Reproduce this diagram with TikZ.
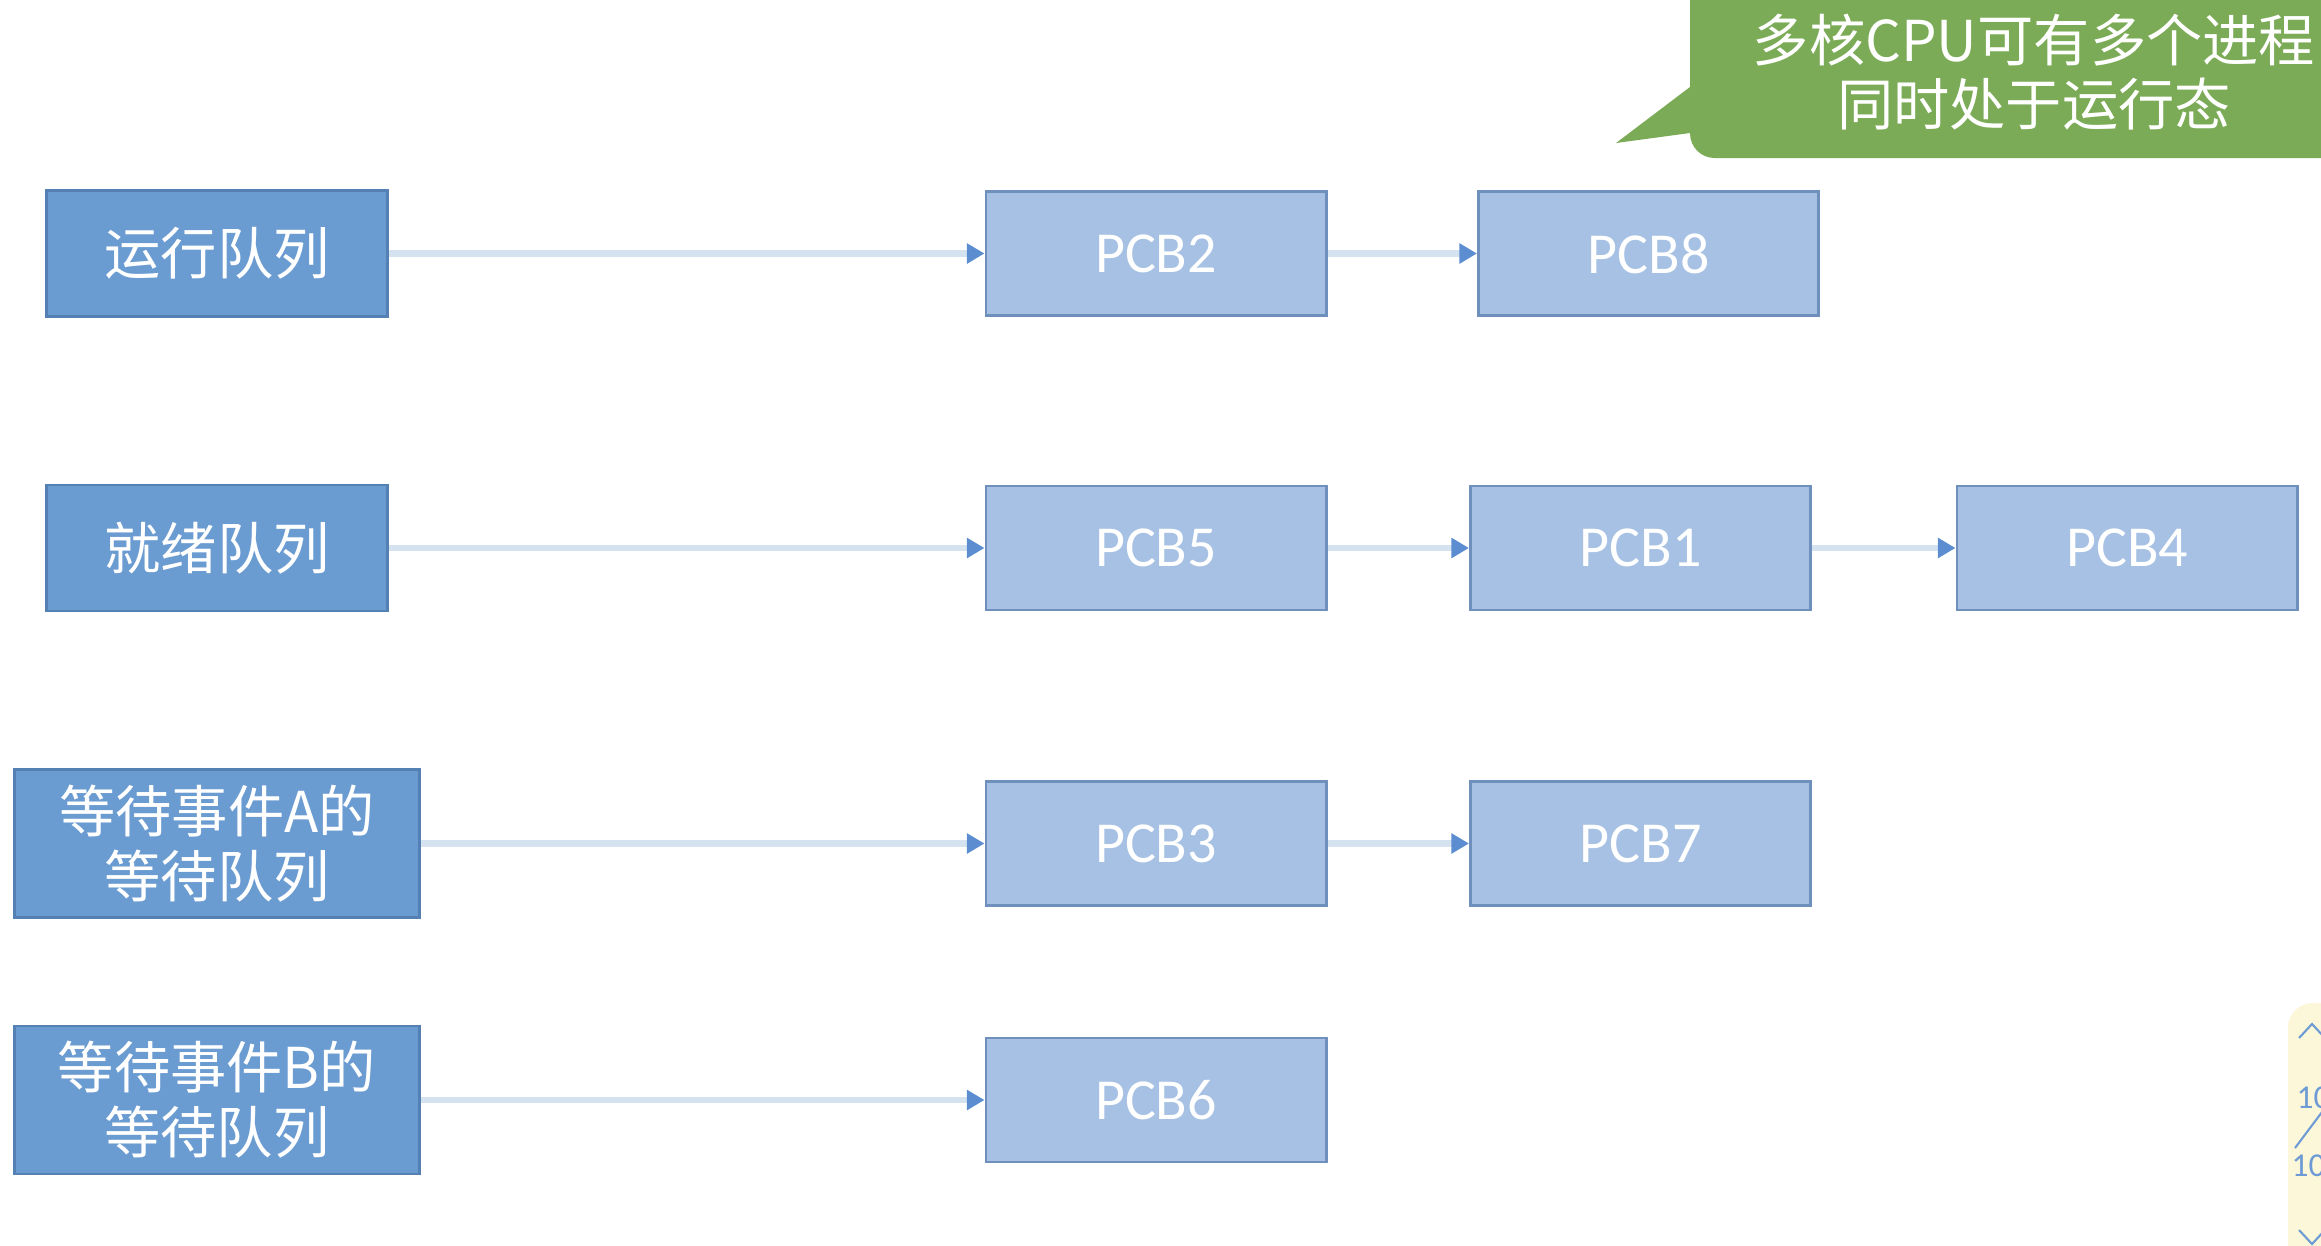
\documentclass[tikz,border=0pt]{standalone}
\usepackage{fontspec}
\setmainfont{Carlito}
\newfontfamily\cjk{Noto Sans CJK SC}
\usepackage{xcolor}
\usepackage{tikz}
\usetikzlibrary{arrows.meta, shapes.geometric, calc}

\definecolor{queuefill}{HTML}{6A9BD1}
\definecolor{queueline}{HTML}{5580B4}
\definecolor{pcbfill}{HTML}{A6C1E3}
\definecolor{pcbline}{HTML}{6F8FBC}
\definecolor{linkpale}{HTML}{D5E3F1}
\definecolor{linkhead}{HTML}{5B8DD0}
\definecolor{notegreen}{HTML}{7BAB56}
\definecolor{panelfill}{HTML}{FBF7D8}
\definecolor{paneltext}{HTML}{6E9BD5}

\begin{document}
\begin{tikzpicture}[x=0.01cm, y=-0.01cm,
    queue/.style = {draw=queueline, fill=queuefill, text=white,
      line width=0.8pt, inner sep=0pt, align=center,
      minimum width=3.41cm, minimum height=1.26cm,
      font=\cjk\fontsize{16}{18.5}\selectfont},
    wait queue/.style = {queue, minimum width=4.05cm, minimum height=1.48cm},
    pcb/.style = {draw=pcbline, fill=pcbfill, text=white,
      line width=0.8pt, inner sep=0pt,
      minimum width=3.40cm, minimum height=1.24cm,
      font=\fontsize{16.5}{19}\selectfont},
    link/.style = {draw=linkpale, line width=1.9pt,
      -{Triangle[length=5pt,width=5.5pt,color=linkhead,fill=linkhead]}},
    panel/.style = {text=paneltext, inner sep=0pt, font=\fontsize{9.5}{10}\selectfont}
  ]
  \useasboundingbox (0,0) rectangle (2321,1245);
  \clip (0,0) rectangle (2321,1245);

  % queue heads
  \node[queue] (runq)   at (217,253.5) {运行队列};
  \node[queue] (readyq) at (217,548)   {就绪队列};
  \node[wait queue] (waitA) at (217,843.5) {等待事件A的\\等待队列};
  \node[wait queue] (waitB) at (217,1100)  {等待事件B的\\等待队列};

  % process control blocks
  \node[pcb] (pcb2) at (1156,253.5)   {PCB2};
  \node[pcb] (pcb8) at (1648.5,253.5) {PCB8};
  \node[pcb] (pcb5) at (1156,548)     {PCB5};
  \node[pcb] (pcb1) at (1640.5,548)   {PCB1};
  \node[pcb] (pcb4) at (2127,548)     {PCB4};
  \node[pcb] (pcb3) at (1156,843.5)   {PCB3};
  \node[pcb] (pcb7) at (1640.5,843.5) {PCB7};
  \node[pcb] (pcb6) at (1156,1100)    {PCB6};

  \draw[link] (runq) -- (pcb2);
  \draw[link] (pcb2) -- (pcb8);
  \draw[link] (readyq) -- (pcb5);
  \draw[link] (pcb5) -- (pcb1);
  \draw[link] (pcb1) -- (pcb4);
  \draw[link] (waitA) -- (pcb3);
  \draw[link] (pcb3) -- (pcb7);
  \draw[link] (waitB) -- (pcb6);

  % callout
  \fill[notegreen] (1690,-30) -- (1690,87) -- (1616,143) -- (1690,133)
    [rounded corners=7pt] -- (1690,158) [sharp corners] -- (2400,158) -- (2400,-30) -- cycle;
  \node[text=white, align=center, inner sep=0pt,
    font=\cjk\fontsize{16}{18.3}\selectfont] (note) at (2034,72)
    {多核CPU可有多个进程\\同时处于运行态};

  % page counter panel
  \fill[panelfill, rounded corners=7pt] (2288,1003) rectangle (2400,1300);
  \draw[paneltext, line width=0.6pt] (2299,1038) -- (2312,1024) -- (2325,1038);
  \node[panel, anchor=west] (pagenow) at (2296,1098) {10};
  \draw[paneltext, line width=0.6pt] (2295,1148) -- (2322,1112);
  \node[panel, anchor=west] (pagetotal) at (2291,1166) {10};
  \draw[paneltext, line width=0.6pt] (2299,1230) -- (2312,1244) -- (2325,1230);
\end{tikzpicture}
\end{document}
